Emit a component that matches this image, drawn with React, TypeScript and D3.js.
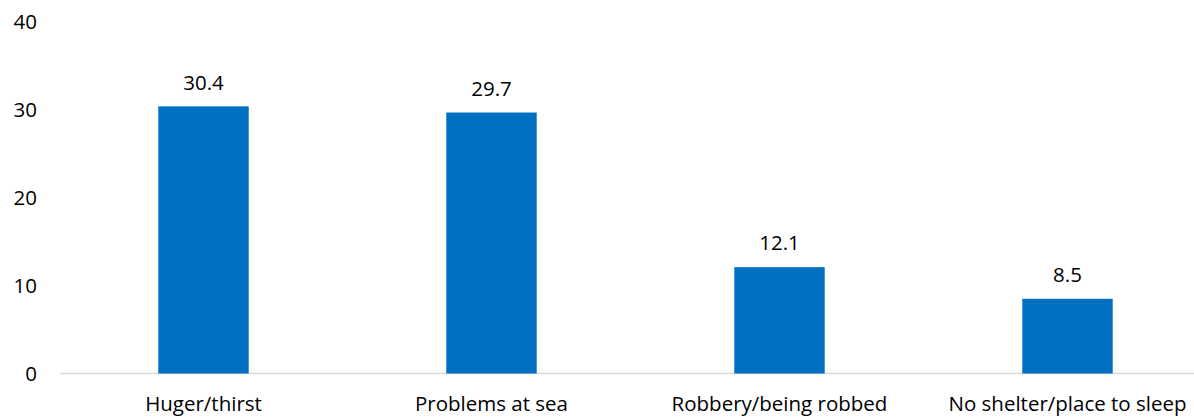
import React from "react";
import * as d3 from "d3";

const categories = ["Huger/thirst", "Problems at sea", "Robbery/being robbed", "No shelter/place to sleep"];
const values = [30.4, 29.7, 12.1, 8.5];
const yTicks = [0, 10, 20, 30, 40];

const W = 1194;
const H = 417;
const FONT = "'Open Sans', sans-serif";
const FS = 20.5;

export default function App() {
  const x = d3.scaleBand<string>().domain(categories).range([59.5, 1211.5]).paddingInner(0.686).paddingOuter(0.343);
  const y = d3.scaleLinear().domain([0, 40]).range([373.5, 22]);
  return (
    <svg width={W} height={H} style={{ position: "absolute", left: 0, top: 0, background: "#fff" }}>
      {yTicks.map((t) => (
        <text key={t} x={37} y={y(t)} dy="0.35em" textAnchor="end" fontFamily={FONT} fontSize={FS} fill="#000">
          {t}
        </text>
      ))}
      <line x1={60} x2={W} y1={y(0)} y2={y(0)} stroke="#d9d9d9" strokeWidth={1.3} />
      {categories.map((c, i) => (
        <g key={c}>
          <rect x={x(c)} y={y(values[i])} width={x.bandwidth()} height={y(0) - y(values[i])} fill="#0070c0" />
          <text x={(x(c) as number) + x.bandwidth() / 2} y={y(values[i]) - 24} dy="0.35em" textAnchor="middle" fontFamily={FONT} fontSize={FS} fill="#000">
            {values[i].toFixed(1)}
          </text>
          <text x={(x(c) as number) + x.bandwidth() / 2} y={404} dy="0.35em" textAnchor="middle" fontFamily={FONT} fontSize={FS} fill="#000">
            {c}
          </text>
        </g>
      ))}
    </svg>
  );
}
